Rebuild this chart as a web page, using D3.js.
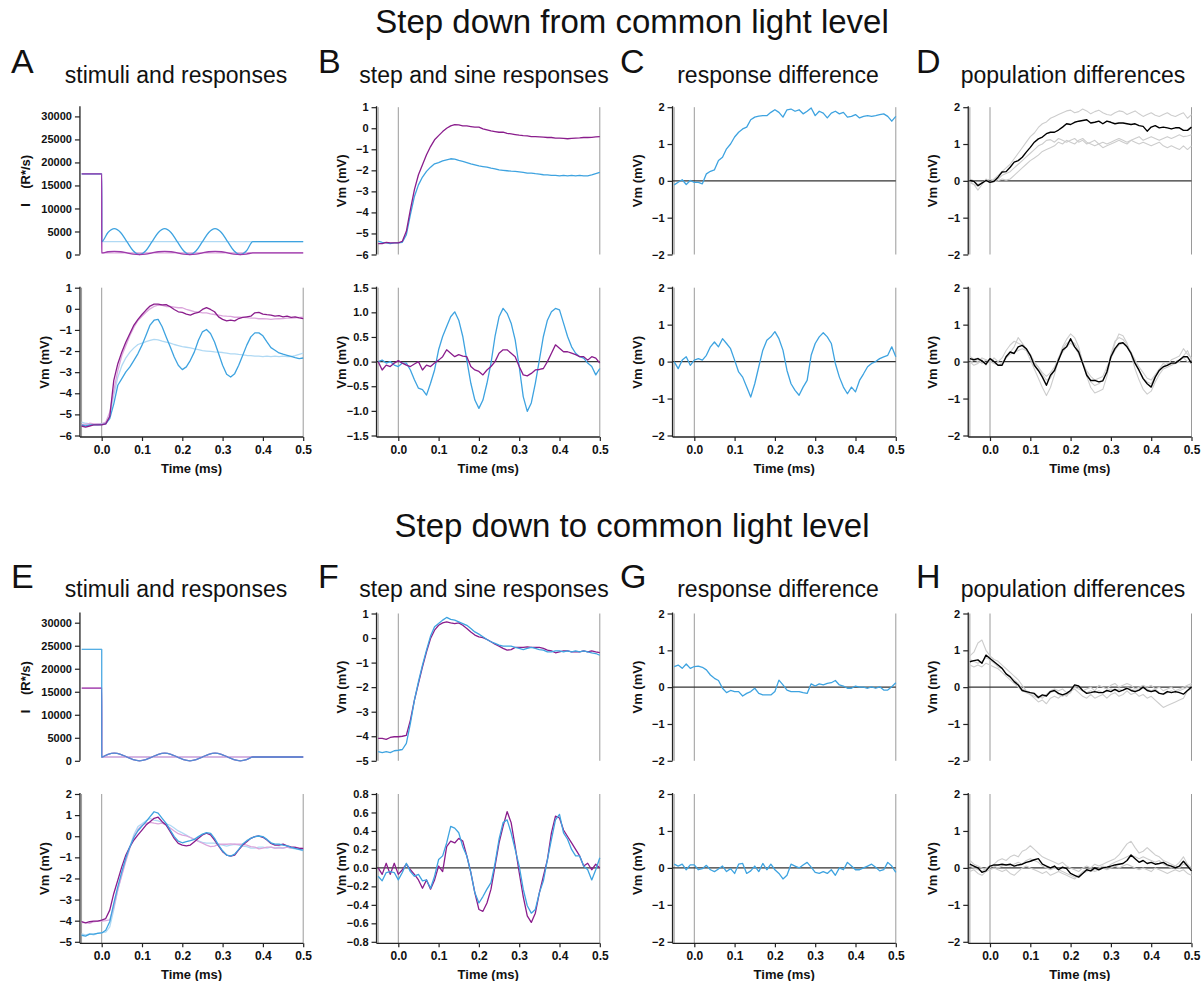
<!DOCTYPE html>
<html lang="en">
<head>
<meta charset="UTF-8">
<title>Step down from / to common light level</title>
<script src="https://cdn.jsdelivr.net/npm/d3@7"></script>
<style>
  body { margin: 0; background: #fff; }
  text { font-family: "Liberation Sans", Arial, Helvetica, sans-serif; fill: #111; }
</style>
</head>
<body>
<script>
// time base of the recorded traces (ms)
var time = [-0.05,-0.04,-0.03,-0.02,-0.01,0,0.01,0.02,0.03,0.04,0.05,0.06,0.07,0.08,0.09,0.1,0.11,0.12,0.13,0.14,0.15,0.16,0.17,0.18,0.19,0.2,0.21,0.22,0.23,0.24,0.25,0.26,0.27,0.28,0.29,0.3,0.31,0.32,0.33,0.34,0.35,0.36,0.37,0.38,0.39,0.4,0.41,0.42,0.43,0.44,0.45,0.46,0.47,0.48,0.49,0.5];

// stimulus time base (ms)
var stimTime = [-0.0496,-0.0001,0,0.0156,0.0313,0.0469,0.0625,0.0781,0.0938,0.1094,0.125,0.1406,0.1563,0.1719,0.1875,0.2031,0.2188,0.2344,0.25,0.2656,0.2813,0.2969,0.3125,0.3281,0.3438,0.3594,0.375,0.5];
var stepTime = [-0.0496,-0.0001,0,0.5];

// ---- step down FROM common light level ----
var stimA_blue = [17500,17500,2800,4780,5600,4780,2800,820,0,820,2800,4780,5600,4780,2800,820,0,820,2800,4780,5600,4780,2800,820,0,820,2800,2800];
var stimA_purple = [17500,17500,350,600,700,600,350,100,0,100,350,600,700,600,350,100,0,100,350,600,700,600,350,100,0,100,350,350];
var stimA_stepBlue = [17500,17500,2800,2800];
var stimA_stepPurple = [17500,17500,350,350];

var A_sinePurple = [-5.55,-5.6,-5.55,-5.5,-5.5,-5.5,-5.45,-5.1,-3.39,-2.6,-2.04,-1.57,-1.17,-0.77,-0.5,-0.27,-0.06,0.13,0.22,0.22,0.19,0.2,0.1,-0.03,-0.14,-0.17,-0.25,-0.3,-0.22,-0.17,-0.03,0.06,-0.03,-0.14,-0.38,-0.5,-0.57,-0.54,-0.57,-0.46,-0.41,-0.38,-0.35,-0.19,-0.17,-0.25,-0.28,-0.3,-0.35,-0.32,-0.38,-0.35,-0.41,-0.38,-0.43,-0.46];
var A_sineBlue = [-5.5,-5.55,-5.5,-5.5,-5.5,-5.48,-5.45,-5.2,-4.5,-3.62,-3.31,-2.99,-2.75,-2.44,-2.12,-1.72,-1.25,-0.77,-0.54,-0.5,-0.85,-1.33,-1.8,-2.28,-2.67,-2.88,-2.75,-2.44,-2.04,-1.49,-1.09,-0.98,-1.17,-1.57,-2.12,-2.67,-3.1,-3.23,-3.07,-2.67,-2.2,-1.72,-1.33,-1.14,-1.14,-1.28,-1.57,-1.84,-1.96,-2.09,-2.15,-2.2,-2.25,-2.31,-2.36,-2.33];
var B_stepPurple = [-5.48,-5.48,-5.42,-5.45,-5.45,-5.45,-5.37,-4.9,-3.87,-2.92,-2.21,-1.74,-1.26,-0.87,-0.55,-0.35,-0.16,0.0,0.11,0.17,0.16,0.11,0.11,0.08,0.05,0.05,-0.03,-0.08,-0.13,-0.16,-0.19,-0.19,-0.24,-0.27,-0.3,-0.33,-0.35,-0.36,-0.4,-0.4,-0.41,-0.42,-0.44,-0.44,-0.47,-0.47,-0.48,-0.5,-0.48,-0.47,-0.46,-0.44,-0.44,-0.43,-0.41,-0.4];
var B_stepBlue = [-5.37,-5.42,-5.45,-5.48,-5.45,-5.45,-5.42,-5.06,-4.1,-3.24,-2.69,-2.32,-2.05,-1.85,-1.69,-1.63,-1.55,-1.5,-1.45,-1.47,-1.53,-1.58,-1.63,-1.69,-1.74,-1.79,-1.82,-1.85,-1.9,-1.93,-1.98,-2.0,-2.02,-2.04,-2.05,-2.07,-2.1,-2.13,-2.13,-2.16,-2.18,-2.21,-2.22,-2.24,-2.24,-2.26,-2.24,-2.26,-2.24,-2.26,-2.24,-2.26,-2.26,-2.22,-2.16,-2.1];
var B_sinePurple = [0,-0.17,-0.07,-0.1,-0.03,0.02,-0.03,-0.07,-0.1,-0.05,0,-0.17,-0.07,-0.1,-0.03,0.03,0.1,0.24,0.17,0.1,0.14,0.11,0.1,-0.1,-0.17,-0.2,-0.27,-0.17,-0.1,0,0.17,0.24,0.24,0.17,0.1,-0.1,-0.27,-0.29,-0.24,-0.17,-0.16,-0.14,0,0.17,0.34,0.27,0.2,0.2,0.17,0.14,0.1,0.1,0.03,0.1,0.07,-0.03];
var B_sineBlue = [0,0.03,-0.03,0,-0.07,-0.1,-0.03,-0.03,-0.17,-0.37,-0.54,-0.57,-0.68,-0.44,-0.17,0.24,0.51,0.71,0.91,1.01,0.84,0.51,0.03,-0.44,-0.78,-0.95,-0.78,-0.44,-0.03,0.51,0.91,1.08,0.98,0.78,0.44,-0.1,-0.71,-1.01,-0.84,-0.44,0.03,0.51,0.84,1.01,1.08,1.05,0.78,0.51,0.3,0.17,0.1,0.07,-0.03,-0.1,-0.27,-0.14];
var C_step = [-0.11,-0.04,0.03,-0.1,0.01,-0.04,-0.04,-0.08,0.19,0.26,0.3,0.55,0.64,0.87,1.0,1.19,1.32,1.41,1.46,1.66,1.73,1.76,1.77,1.77,1.86,1.93,1.86,1.73,1.93,1.95,1.89,1.93,1.82,1.89,1.98,1.77,1.89,1.84,1.71,1.84,1.89,1.82,1.86,1.73,1.75,1.8,1.71,1.75,1.77,1.75,1.77,1.8,1.82,1.75,1.62,1.75];
var C_sine = [0,-0.19,0.04,0.13,-0.1,0.04,0.08,0.04,0.17,0.4,0.53,0.4,0.62,0.49,0.35,0.04,-0.28,-0.42,-0.69,-0.96,-0.6,-0.14,0.31,0.58,0.67,0.81,0.62,0.31,-0.24,-0.6,-0.78,-0.91,-0.69,-0.51,0.17,0.49,0.67,0.78,0.67,0.49,-0.05,-0.42,-0.69,-0.87,-0.69,-0.82,-0.51,-0.33,-0.14,-0.05,0,0.08,0.13,0.17,0.4,0.13];
var D_stepMean = [0.01,-0.01,-0.13,-0.06,0.01,-0.04,-0.01,0.1,0.24,0.25,0.37,0.51,0.55,0.64,0.78,0.91,1.05,1.14,1.19,1.28,1.32,1.32,1.38,1.46,1.55,1.53,1.59,1.62,1.64,1.66,1.57,1.59,1.62,1.55,1.62,1.59,1.55,1.57,1.57,1.55,1.53,1.55,1.5,1.48,1.35,1.46,1.5,1.44,1.46,1.44,1.41,1.44,1.44,1.37,1.37,1.46];
var D_stepCell1 = [0,-0.1,-0.25,-0.1,0.05,-0.05,0.05,0.15,0.25,0.35,0.45,0.6,0.75,0.9,1.05,1.2,1.3,1.45,1.55,1.6,1.7,1.75,1.8,1.85,1.9,1.92,1.85,1.88,1.95,1.9,1.82,1.88,1.92,1.85,1.8,1.78,1.85,1.9,1.88,1.8,1.85,1.9,1.82,1.75,1.8,1.85,1.78,1.75,1.8,1.85,1.78,1.75,1.8,1.85,1.7,1.8];
var D_stepCell2 = [0.05,0,-0.1,-0.05,0,0.05,0,0.05,0.15,0.2,0.25,0.35,0.45,0.55,0.65,0.75,0.85,0.95,1.0,1.1,1.12,1.05,1.15,1.1,1.05,1.1,1.15,1.05,1.1,1.0,1.05,1.1,1.0,1.05,1.0,1.05,1.1,1.15,1.1,1.05,1.1,1.15,1.2,1.1,1.15,1.2,1.15,1.1,1.15,1.2,1.15,1.2,1.25,1.2,1.22,1.25];
var D_stepCell3 = [-0.05,-0.1,-0.15,-0.05,0,-0.05,-0.02,0,0.05,0.02,0.05,0.15,0.25,0.35,0.45,0.55,0.62,0.7,0.8,0.85,0.9,0.95,1.05,1.0,1.1,1.05,1.0,1.1,1.15,1.05,1.0,0.95,1.0,0.9,0.95,1.0,1.05,1.1,1.05,1.0,1.1,1.05,1.0,1.05,1.0,0.95,1.0,1.05,0.95,0.9,0.95,0.9,0.85,0.95,0.85,0.95];
var D_sineMean = [0.08,0.05,0.08,0.02,-0.07,0.08,0,-0.1,-0.1,0.13,0.26,0.22,0.4,0.44,0.35,0.17,-0.1,-0.24,-0.42,-0.64,-0.37,-0.24,0.04,0.31,0.4,0.62,0.4,0.26,-0.05,-0.37,-0.51,-0.51,-0.55,-0.52,-0.28,0.13,0.35,0.49,0.51,0.4,0.22,-0.05,-0.24,-0.46,-0.6,-0.69,-0.42,-0.24,-0.14,-0.1,-0.04,-0.04,0.04,0.13,0.13,-0.04];
var D_sineCell1 = [0.15,0.05,0.1,-0.05,0.05,-0.05,0.1,0,0.1,0.3,0.45,0.55,0.5,0.45,0.3,0.05,-0.2,-0.45,-0.7,-0.92,-0.7,-0.35,0.05,0.4,0.6,0.75,0.65,0.4,0,-0.4,-0.7,-0.85,-0.8,-0.75,-0.4,0.1,0.5,0.75,0.7,0.5,0.2,-0.2,-0.5,-0.75,-0.88,-0.8,-0.55,-0.35,-0.2,-0.15,-0.1,-0.05,0,0.15,0.3,0.05];
var D_sineCell2 = [-0.05,0.05,0,0.1,0.05,0,-0.05,-0.1,-0.05,0.15,0.25,0.4,0.65,0.5,0.35,0.15,-0.05,-0.15,-0.35,-0.5,-0.45,-0.2,0.1,0.35,0.5,0.55,0.5,0.3,0,-0.3,-0.55,-0.65,-0.6,-0.5,-0.25,0.2,0.55,0.65,0.6,0.45,0.25,0,-0.25,-0.45,-0.55,-0.6,-0.4,-0.2,-0.05,-0.1,0.05,0.1,0.15,0.35,0.2,0.1];
var D_sineCell3 = [0,-0.1,-0.05,0.05,-0.1,0.1,0,-0.1,-0.05,0.1,0.2,0.25,0.3,0.35,0.3,0.2,0,-0.15,-0.3,-0.4,-0.3,-0.15,0.1,0.25,0.4,0.5,0.4,0.2,-0.05,-0.25,-0.4,-0.5,-0.45,-0.4,-0.15,0.1,0.3,0.45,0.5,0.4,0.25,0.05,-0.15,-0.3,-0.45,-0.5,-0.35,-0.2,-0.15,-0.05,-0.1,0,0.05,0.1,0,-0.05];

// ---- step down TO common light level ----
var stimE_blue = [24200,24200,830,1420,1660,1420,830,240,0,240,830,1420,1660,1420,830,240,0,240,830,1420,1660,1420,830,240,0,240,830,830];
var stimE_purple = [15800,15800,830,1420,1660,1420,830,240,0,240,830,1420,1660,1420,830,240,0,240,830,1420,1660,1420,830,240,0,240,830,830];
var stimE_stepBlue = [24200,24200,830,830];
var stimE_stepPurple = [15800,15800,830,830];

var E_sinePurple = [-4.05,-4.1,-4.05,-4.02,-4.02,-3.97,-3.9,-3.5,-2.71,-2.08,-1.44,-0.89,-0.5,-0.18,0.06,0.29,0.53,0.69,0.85,0.9,0.69,0.53,0.22,-0.1,-0.34,-0.42,-0.46,-0.42,-0.26,-0.1,0.06,0.14,0.06,-0.18,-0.46,-0.73,-0.89,-0.94,-0.89,-0.65,-0.42,-0.26,-0.1,-0.02,0.01,-0.05,-0.18,-0.34,-0.42,-0.42,-0.37,-0.46,-0.5,-0.53,-0.58,-0.58];
var E_sineBlue = [-4.69,-4.73,-4.64,-4.64,-4.6,-4.58,-4.45,-4.05,-3.18,-2.39,-1.68,-1.02,-0.5,-0.05,0.26,0.48,0.69,0.93,1.16,1.09,0.85,0.61,0.29,-0.02,-0.23,-0.31,-0.26,-0.21,-0.15,-0.02,0.1,0.17,0.14,-0.1,-0.42,-0.69,-0.89,-0.94,-0.85,-0.62,-0.37,-0.21,-0.1,-0.02,0.01,-0.02,-0.15,-0.31,-0.37,-0.37,-0.42,-0.46,-0.53,-0.58,-0.62,-0.66];
var F_stepPurple = [-4.09,-4.09,-4.13,-4.05,-4.02,-4.02,-4.0,-3.96,-3.34,-2.53,-1.85,-1.17,-0.56,-0.02,0.32,0.52,0.62,0.66,0.62,0.59,0.62,0.52,0.39,0.25,0.12,0.05,0.02,-0.06,-0.15,-0.25,-0.33,-0.42,-0.49,-0.47,-0.38,-0.38,-0.38,-0.36,-0.38,-0.38,-0.38,-0.42,-0.49,-0.52,-0.6,-0.56,-0.52,-0.52,-0.56,-0.56,-0.56,-0.52,-0.56,-0.52,-0.56,-0.59];
var F_stepBlue = [-4.63,-4.67,-4.63,-4.67,-4.59,-4.57,-4.54,-4.29,-3.48,-2.53,-1.78,-1.1,-0.49,0.08,0.46,0.59,0.73,0.84,0.76,0.73,0.66,0.59,0.52,0.39,0.25,0.16,0.05,-0.06,-0.15,-0.22,-0.29,-0.33,-0.33,-0.33,-0.38,-0.42,-0.47,-0.42,-0.38,-0.42,-0.47,-0.49,-0.56,-0.56,-0.52,-0.52,-0.56,-0.52,-0.56,-0.52,-0.56,-0.52,-0.56,-0.6,-0.63,-0.7];
var F_sinePurple = [0,-0.07,0.05,-0.07,0.05,-0.07,-0.02,0.04,-0.02,-0.07,-0.13,-0.22,-0.13,-0.23,-0.13,0.02,-0.04,0.23,0.29,0.27,0.32,0.29,0.13,-0.05,-0.27,-0.45,-0.47,-0.38,-0.23,0.02,0.27,0.45,0.61,0.49,0.23,-0.05,-0.31,-0.52,-0.59,-0.49,-0.27,-0.09,0.09,0.38,0.56,0.54,0.41,0.34,0.27,0.2,0.13,0.02,0.05,-0.02,0.04,0];
var F_sineBlue = [-0.09,-0.14,-0.05,-0.04,-0.05,-0.13,-0.05,0.05,-0.04,-0.09,-0.07,-0.14,-0.13,-0.22,-0.09,0.09,0.13,0.27,0.45,0.43,0.38,0.23,0.13,-0.05,-0.27,-0.38,-0.31,-0.23,-0.16,0.05,0.31,0.49,0.52,0.38,0.2,0.02,-0.23,-0.41,-0.49,-0.45,-0.27,-0.14,0.09,0.31,0.52,0.58,0.38,0.31,0.2,0.13,0.13,0.02,-0.02,-0.13,-0.02,0.11];
var G_step = [0.56,0.6,0.51,0.63,0.51,0.56,0.57,0.54,0.47,0.33,0.24,0.18,-0.03,-0.15,-0.09,-0.12,-0.12,-0.24,-0.17,-0.12,-0.03,-0.17,-0.21,-0.21,-0.21,-0.12,0.19,0.06,-0.08,-0.12,-0.12,-0.12,-0.15,-0.17,0.09,0.03,0.09,0.06,0.1,0.12,0.18,0.06,0.03,-0.03,-0.03,0.03,0,0,-0.03,0.01,-0.03,0.01,-0.08,-0.08,0.01,0.12];
var G_sine = [0.1,0.05,0.1,-0.05,0.08,0.08,-0.05,-0.02,0.07,-0.05,-0.1,-0.03,0.05,-0.1,-0.02,-0.15,0.1,0.12,-0.15,-0.08,0.05,-0.1,0.12,-0.05,0.1,-0.05,-0.15,-0.3,-0.2,0.1,0.05,0,0.08,0.15,0.02,-0.12,-0.15,-0.1,-0.15,-0.05,-0.2,0,-0.05,0.15,0.05,-0.05,-0.05,0,0.05,0.1,0.02,-0.08,-0.05,0.15,0.05,-0.12];
var H_stepMean = [0.69,0.72,0.74,0.65,0.87,0.78,0.69,0.6,0.51,0.36,0.28,0.15,0.06,-0.09,-0.12,-0.15,-0.17,-0.28,-0.21,-0.24,-0.12,-0.09,-0.17,-0.21,-0.17,-0.09,0.06,0.03,-0.09,-0.17,-0.15,-0.12,-0.15,-0.15,-0.09,-0.12,-0.06,-0.12,-0.08,-0.03,-0.09,-0.12,-0.08,0,-0.09,-0.12,-0.09,-0.17,-0.19,-0.12,-0.15,-0.12,-0.15,-0.19,-0.09,0];
var H_stepCell1 = [0.85,0.95,1.2,1.28,1.0,0.85,0.75,0.7,0.6,0.5,0.4,0.3,0.2,0.05,-0.1,-0.2,-0.3,-0.4,-0.35,-0.45,-0.3,-0.25,-0.3,-0.2,-0.25,-0.1,-0.05,-0.15,-0.25,-0.3,-0.2,-0.3,-0.25,-0.2,-0.3,-0.2,-0.15,-0.25,-0.2,-0.1,-0.2,-0.15,-0.25,-0.2,-0.3,-0.25,-0.35,-0.45,-0.55,-0.5,-0.45,-0.4,-0.35,-0.3,-0.1,-0.05];
var H_stepCell2 = [0.6,0.55,0.6,0.55,0.65,0.6,0.55,0.5,0.4,0.3,0.2,0.1,0,-0.1,-0.15,-0.2,-0.25,-0.3,-0.25,-0.2,-0.1,-0.05,-0.1,-0.05,-0.15,-0.1,0,-0.05,-0.1,-0.05,0,-0.1,0.05,0,-0.05,0.05,0.1,0,0.05,0.1,0.05,-0.05,0,0.05,0,0.05,-0.05,0,-0.1,-0.05,0,-0.1,-0.05,0,0.05,0.1];
var H_stepCell3 = [0.75,0.7,0.65,0.7,0.8,0.75,0.65,0.55,0.5,0.35,0.3,0.2,0.1,-0.05,-0.1,-0.15,-0.2,-0.25,-0.3,-0.2,-0.15,-0.1,-0.2,-0.25,-0.2,-0.15,0.05,0,-0.1,-0.15,-0.1,-0.15,-0.1,-0.15,-0.1,-0.05,-0.1,-0.05,-0.1,0,-0.05,-0.1,-0.05,0,-0.05,-0.1,-0.05,-0.15,-0.2,-0.15,-0.1,-0.15,-0.1,-0.05,0,0.05];
var H_sineMean = [0.1,0.05,0,-0.12,-0.08,0.05,0.08,0.08,0.1,0.08,0.1,0.05,0.08,0.1,0.15,0.18,0.22,0.25,0.1,0.05,0,0.05,-0.05,0.02,-0.02,-0.15,-0.2,-0.25,-0.15,-0.05,-0.08,0,-0.05,0,0.02,0.05,0.08,0.1,0.12,0.2,0.35,0.25,0.15,0.2,0.12,0.15,0.1,0.12,0.15,0.08,0.05,0,0.05,0.18,0.05,-0.08];
var H_sineCell1 = [0.2,0.1,0.05,0,-0.05,0,0.1,0.2,0.25,0.2,0.3,0.35,0.3,0.45,0.5,0.6,0.5,0.4,0.3,0.25,0.2,0.15,0.1,0.15,0.05,0,-0.05,-0.1,0,0.05,0,0.1,0.05,0.1,0.15,0.2,0.25,0.35,0.5,0.65,0.72,0.55,0.4,0.45,0.55,0.45,0.35,0.3,0.2,0.15,0.1,0.05,0.15,0.3,0.1,0];
var H_sineCell2 = [-0.1,-0.05,-0.15,-0.2,-0.1,-0.05,0,-0.05,-0.1,-0.05,-0.15,-0.2,-0.1,0,0.05,0,-0.05,-0.1,-0.15,-0.1,-0.2,-0.15,-0.1,-0.15,-0.2,-0.25,-0.3,-0.2,-0.15,-0.1,-0.05,-0.1,-0.05,0,-0.05,0,0.05,0,0.05,0.1,0.05,0,-0.05,0,-0.05,-0.1,0,-0.05,-0.1,-0.15,-0.1,-0.05,-0.1,-0.05,-0.15,-0.2];
var H_sineCell3 = [0.05,0,-0.05,-0.1,0,0.05,0.05,0,0.05,0.1,0.05,0.1,0.15,0.1,0.2,0.25,0.2,0.15,0.05,0,-0.05,0,-0.05,-0.1,-0.15,-0.2,-0.25,-0.2,-0.1,-0.05,-0.1,-0.05,0,0.05,0,0.1,0.15,0.2,0.25,0.3,0.35,0.3,0.25,0.3,0.25,0.2,0.15,0.2,0.1,0.05,0,0.05,0,0.1,0.05,-0.05];

// tick labels
var intensityTicks = [0,5000,10000,15000,20000,25000,30000];
var timeTicks = [0,0.1,0.2,0.3,0.4,0.5];

// colours
var purple = "#8a1d8c", lightPurple = "#dba6dc", stimPurple = "#9d3aab";
var blue = "#3ea3e0", lightBlue = "#b0d9f4";
var cellGray = "#cdcdcd";

// layout
var width = 1202, height = 981;
var svg = d3.select("body").append("svg").attr("width", width).attr("height", height);
var colX0 = [101.7, 398.3, 694.3, 990.0];   // pixel of t = 0 in each column
var pxPerMs = 403;
var sectionY = [0, 506.3];

function panel(p) {
    var x0 = colX0[p.col], sy = sectionY[p.sec];
    var x = d3.scaleLinear().domain([-0.054, 0.5]).range([x0 - 0.054 * pxPerMs, x0 + 0.5 * pxPerMs]);
    var top = sy + (p.row === 0 ? 107.2 : 287.7);
    var bot = sy + (p.row === 0 ? 254.5 : 435.5);
    var axisY = p.row === 0 ? bot : sy + 437;
    var y = d3.scaleLinear().domain(p.domain).range([bot, top]);
    var left = x.range()[0];
    var g = svg.append("g");

    // grey markers at -0.05, 0 and 0.5
    if (p.vlines) {
        g.selectAll(".vl").data([-0.05, 0, 0.5]).enter().append("line")
            .attr("x1", function (d) { return x(d); })
            .attr("x2", function (d) { return x(d); })
            .attr("y1", top).attr("y2", axisY)
            .attr("stroke", "#9a9a9a").attr("stroke-width", 1);
    }
    if (p.zero) {
        g.append("line")
            .attr("x1", left).attr("x2", x(0.5))
            .attr("y1", y(0)).attr("y2", y(0))
            .attr("stroke", "#333").attr("stroke-width", 1.3);
    }

    p.traces.forEach(function (tr) {
        var ts = tr.t || time;
        var line = d3.line()
            .x(function (d, i) { return x(ts[i]); })
            .y(function (d) { return y(d); })
            .curve(tr.curve || d3.curveLinear);
        g.append("path")
            .attr("d", line(tr.v))
            .attr("fill", "none")
            .attr("stroke", tr.c)
            .attr("stroke-width", tr.w || 1.3)
            .attr("stroke-opacity", tr.o || 1)
            .attr("stroke-linejoin", "round");
    });

    // y axis
    var ya = g.append("g")
        .attr("transform", "translate(" + left + ",0)")
        .call(d3.axisLeft(y).tickValues(p.ticks).tickFormat(p.fmt).tickSize(5).tickPadding(3));
    ya.select(".domain").remove();
    ya.selectAll(".tick line").attr("stroke", "#222").attr("stroke-width", 1.2);
    ya.selectAll(".tick text").attr("font-family", "Liberation Sans, Arial, sans-serif")
        .attr("font-size", 11).attr("font-weight", "bold").attr("fill", "#111");
    g.append("line").attr("x1", left).attr("x2", left).attr("y1", top - 1).attr("y2", axisY)
        .attr("stroke", "#222").attr("stroke-width", 1.3);

    // y label
    g.append("text")
        .attr("transform", "translate(" + (left - (p.ylabelGap || 31)) + "," + ((top + axisY) / 2) + ") rotate(-90)")
        .attr("text-anchor", "middle")
        .attr("font-size", 13).attr("font-weight", "bold")
        .style("white-space", "pre")
        .text(p.ylabel || "Vm (mV)");

    // x axis on the lower panels
    if (p.row === 1) {
        var xa = g.append("g")
            .attr("transform", "translate(0," + axisY + ")")
            .call(d3.axisBottom(x).tickValues(timeTicks).tickFormat(d3.format(".1f")).tickSize(4).tickPadding(4));
        xa.select(".domain").remove();
        xa.selectAll(".tick line").attr("stroke", "#222").attr("stroke-width", 1.2);
        xa.selectAll(".tick text").attr("font-family", "Liberation Sans, Arial, sans-serif")
            .attr("font-size", 12).attr("font-weight", "bold").attr("fill", "#111");
        g.append("line").attr("x1", left).attr("x2", x(0.5)).attr("y1", axisY).attr("y2", axisY)
            .attr("stroke", "#222").attr("stroke-width", 1.3);
        g.append("text")
            .attr("x", (left + x(0.5)) / 2).attr("y", sy + 473)
            .attr("text-anchor", "middle")
            .attr("font-size", 13).attr("font-weight", "bold")
            .text("Time (ms)");
    }
}

var vmTicks2 = [-2, -1, 0, 1, 2];
var intFmt = d3.format("d");
var oneFmt = d3.format(".1f");
var stimCurve = d3.curveMonotoneX;

// ----- section 1 -----
panel({sec: 0, col: 0, row: 0, domain: [0, 32000], ticks: intensityTicks, fmt: intFmt, ylabel: "I    (R*/s)", ylabelGap: 50,
    traces: [
        {t: stepTime, v: stimA_stepBlue, c: lightBlue},
        {t: stepTime, v: stimA_stepPurple, c: lightPurple},
        {t: stimTime, v: stimA_blue, c: blue, curve: stimCurve},
        {t: stimTime, v: stimA_purple, c: stimPurple, curve: stimCurve}
    ]});
panel({sec: 0, col: 0, row: 1, domain: [-6, 1], ticks: d3.range(-6, 2), fmt: intFmt, vlines: true,
    traces: [
        {v: B_stepBlue, c: lightBlue},
        {v: B_stepPurple, c: lightPurple},
        {v: A_sineBlue, c: blue},
        {v: A_sinePurple, c: purple}
    ]});
panel({sec: 0, col: 1, row: 0, domain: [-6, 1], ticks: d3.range(-6, 2), fmt: intFmt, vlines: true,
    traces: [{v: B_stepBlue, c: blue}, {v: B_stepPurple, c: purple}]});
panel({sec: 0, col: 1, row: 1, domain: [-1.5, 1.5], ticks: [-1.5, -1, -0.5, 0, 0.5, 1, 1.5], fmt: oneFmt, vlines: true, zero: true,
    traces: [{v: B_sineBlue, c: blue}, {v: B_sinePurple, c: purple}]});
panel({sec: 0, col: 2, row: 0, domain: [-2, 2], ticks: vmTicks2, fmt: intFmt, vlines: true, zero: true,
    traces: [{v: C_step, c: blue}]});
panel({sec: 0, col: 2, row: 1, domain: [-2, 2], ticks: vmTicks2, fmt: intFmt, vlines: true, zero: true,
    traces: [{v: C_sine, c: blue}]});
panel({sec: 0, col: 3, row: 0, domain: [-2, 2], ticks: vmTicks2, fmt: intFmt, vlines: true, zero: true,
    traces: [
        {v: D_stepCell1, c: cellGray, w: 1.1}, {v: D_stepCell2, c: cellGray, w: 1.1}, {v: D_stepCell3, c: cellGray, w: 1.1},
        {v: D_stepMean, c: "#000", w: 1.4}
    ]});
panel({sec: 0, col: 3, row: 1, domain: [-2, 2], ticks: vmTicks2, fmt: intFmt, vlines: true, zero: true,
    traces: [
        {v: D_sineCell1, c: cellGray, w: 1.1}, {v: D_sineCell2, c: cellGray, w: 1.1}, {v: D_sineCell3, c: cellGray, w: 1.1},
        {v: D_sineMean, c: "#000", w: 1.4}
    ]});

// ----- section 2 -----
panel({sec: 1, col: 0, row: 0, domain: [0, 32000], ticks: intensityTicks, fmt: intFmt, ylabel: "I    (R*/s)", ylabelGap: 50,
    traces: [
        {t: stepTime, v: stimE_stepBlue, c: lightBlue},
        {t: stepTime, v: stimE_stepPurple, c: lightPurple},
        {t: stimTime, v: stimE_purple, c: stimPurple, curve: stimCurve},
        {t: stimTime, v: stimE_blue, c: blue, o: 0.8, curve: stimCurve}
    ]});
panel({sec: 1, col: 0, row: 1, domain: [-5, 2], ticks: d3.range(-5, 3), fmt: intFmt, vlines: true,
    traces: [
        {v: F_stepBlue, c: lightBlue},
        {v: F_stepPurple, c: lightPurple},
        {v: E_sinePurple, c: purple},
        {v: E_sineBlue, c: blue}
    ]});
panel({sec: 1, col: 1, row: 0, domain: [-5, 1], ticks: d3.range(-5, 2), fmt: intFmt, vlines: true,
    traces: [{v: F_stepPurple, c: purple}, {v: F_stepBlue, c: blue}]});
panel({sec: 1, col: 1, row: 1, domain: [-0.8, 0.8], ticks: [-0.8, -0.6, -0.4, -0.2, 0, 0.2, 0.4, 0.6, 0.8], fmt: oneFmt, vlines: true, zero: true,
    traces: [{v: F_sinePurple, c: purple}, {v: F_sineBlue, c: blue}]});
panel({sec: 1, col: 2, row: 0, domain: [-2, 2], ticks: vmTicks2, fmt: intFmt, vlines: true, zero: true,
    traces: [{v: G_step, c: blue}]});
panel({sec: 1, col: 2, row: 1, domain: [-2, 2], ticks: vmTicks2, fmt: intFmt, vlines: true, zero: true,
    traces: [{v: G_sine, c: blue}]});
panel({sec: 1, col: 3, row: 0, domain: [-2, 2], ticks: vmTicks2, fmt: intFmt, vlines: true, zero: true,
    traces: [
        {v: H_stepCell1, c: cellGray, w: 1.1}, {v: H_stepCell2, c: cellGray, w: 1.1}, {v: H_stepCell3, c: cellGray, w: 1.1},
        {v: H_stepMean, c: "#000", w: 1.4}
    ]});
panel({sec: 1, col: 3, row: 1, domain: [-2, 2], ticks: vmTicks2, fmt: intFmt, vlines: true, zero: true,
    traces: [
        {v: H_sineCell1, c: cellGray, w: 1.1}, {v: H_sineCell2, c: cellGray, w: 1.1}, {v: H_sineCell3, c: cellGray, w: 1.1},
        {v: H_sineMean, c: "#000", w: 1.4}
    ]});

// titles, letters
var sectionTitles = ["Step down from common light level", "Step down to common light level"];
var panelTitles = ["stimuli and responses", "step and sine responses", "response difference", "population differences"];
var letters = [["A", "B", "C", "D"], ["E", "F", "G", "H"]];
var titleX = [176, 484, 778, 1073];
var letterX = [11, 318, 620, 916];
var titleBase = [33, 537], letterBase = [73, 588], panelTitleBase = [83, 597];

[0, 1].forEach(function (s) {
    svg.append("text").attr("x", 632).attr("y", titleBase[s])
        .attr("text-anchor", "middle").attr("font-size", 33)
        .text(sectionTitles[s]);
    letters[s].forEach(function (L, i) {
        svg.append("text").attr("x", letterX[i]).attr("y", letterBase[s])
            .attr("font-size", 34).text(L);
        svg.append("text").attr("x", titleX[i]).attr("y", panelTitleBase[s])
            .attr("text-anchor", "middle").attr("font-size", 23)
            .text(panelTitles[i]);
    });
});
</script>
</body>
</html>
